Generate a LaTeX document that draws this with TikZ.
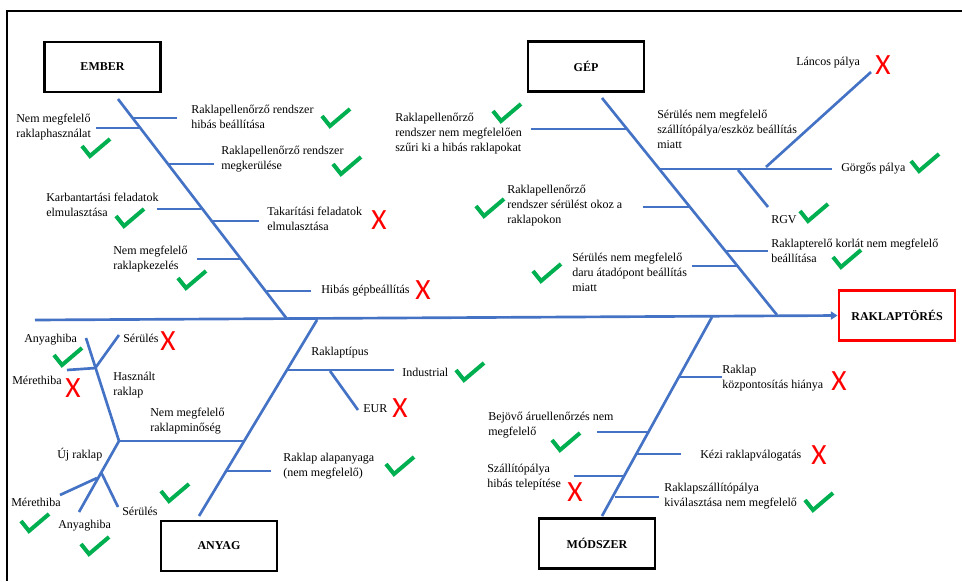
\documentclass[tikz,border=0pt]{standalone}
\usepackage{fontspec}
\setmainfont{Liberation Serif}
\newfontfamily\markfont{Carlito}
\usepackage{xcolor}
\usetikzlibrary{arrows.meta}
\definecolor{bonecol}{RGB}{68,114,196}
\definecolor{okgreen}{RGB}{0,176,80}
\tikzset{
  bone/.style={bonecol, line width=2pt},
  cause/.style={font=\fontsize{9}{11.2}\selectfont, align=left, anchor=west, inner sep=0pt},
  catbox/.style={draw=black, line width=2.2pt, minimum width=87pt, minimum height=37.5pt, font=\fontsize{9}{11}\selectfont\bfseries},
  nope/.style={red, font=\markfont\fontsize{22}{22}\selectfont, inner sep=0pt},
  okmark/.style={okgreen, line width=3pt}
}
\newcommand\okat[1]{\draw[okmark, shift={(#1)}] (-14,-2) -- (-6,8) -- (14,-9);}

\begin{document}
\begin{tikzpicture}[x=0.75pt, y=-0.75pt]
\useasboundingbox (0,0) rectangle (962,581);
\draw[line width=1.5pt] (7,581) -- (7,11) -- (962,11);

\node[catbox] (ember) at (102.5,67) {EMBER};
\node[catbox] (gep) at (586,66.5) {GÉP};
\node[catbox] (anyag) at (219,546) {ANYAG};
\node[catbox] (modszer) at (597,543.5) {MÓDSZER};
\node[catbox, draw=red, minimum width=87pt, minimum height=38pt] (effect) at (897,315.5) {RAKLAPTÖRÉS};

\coordinate (tail) at (35,320);
\draw[bone, -{Triangle[length=5pt,width=6pt]}] (tail) -- (effect.west);

% EMBER
\coordinate (ember-a) at (118,99); \coordinate (ember-b) at (287,319);
\draw[bone] (ember-a) -- (ember-b);
\draw[bone] (133,118) -- (177,118);
\draw[bone] (96,128) -- (139,128);
\draw[bone] (168,164) -- (214,164);
\draw[bone] (157,209) -- (201,209);
\draw[bone] (213,221) -- (259,221);
\draw[bone] (197,259) -- (242,259);
\draw[bone] (267,291) -- (311,291);
\node[cause] (e1) at (191,117) {Raklapellenőrző rendszer\\hibás beállítása};
\node[cause] (e2) at (16,127) {Nem megfelelő\\raklaphasználat};
\node[cause] (e3) at (221,159) {Raklapellenőrző rendszer\\megkerülése};
\node[cause] (e4) at (46,205) {Karbantartási feladatok\\elmulasztása};
\node[cause] (e5) at (267,219) {Takarítási feladatok\\elmulasztása};
\node[cause] (e6) at (113,259) {Nem megfelelő\\raklapkezelés};
\node[cause] (e7) at (321,291) {Hibás gépbeállítás};
\okat{336,118} \okat{96,148} \okat{347,166} \okat{130,218} \okat{192,280}
\node[nope] (x1) at (379,220) {X};
\node[nope] (x2) at (423,290) {X};

% GÉP
\coordinate (gep-a) at (602,98); \coordinate (gep-b) at (777,315);
\draw[bone] (gep-a) -- (gep-b);
\draw[bone] (531,129) -- (627,129);
\draw[bone] (660,169) -- (832,169);
\draw[bone] (766,167) -- (871,72);
\draw[bone] (738,170) -- (768,207);
\draw[bone] (643,207) -- (689,207);
\draw[bone] (725,251) -- (768,251);
\draw[bone] (692,266) -- (737,266);
\node[cause] (g1) at (395,134) {Raklapellenőrző\\rendszer nem megfelelően\\szűri ki a hibás raklapokat};
\node[cause] (g2) at (657,129) {Sérülés nem megfelelő\\szállítópálya/eszköz beállítás\\miatt};
\node[cause] (g3) at (796,63) {Láncos pálya};
\node[cause] (g4) at (841,169) {Görgős pálya};
\node[cause] (g5) at (771,220) {RGV};
\node[cause] (g6) at (507,206) {Raklapellenőrző\\rendszer sérülést okoz a\\raklapokon};
\node[cause] (g7) at (771,251) {Raklapterelő korlát nem megfelelő\\beállítása};
\node[cause] (g8) at (572,272) {Sérülés nem megfelelő\\daru átadópont beállítás\\miatt};
\okat{507,113} \okat{925,163} \okat{814,213} \okat{490,208} \okat{847,259} \okat{547,273}
\node[nope] (x3) at (883,65) {X};

% ANYAG
\coordinate (anyag-a) at (317,320); \coordinate (anyag-b) at (199,516);
\draw[bone] (anyag-a) -- (anyag-b);
\draw[bone] (287,370) -- (394,370);
\draw[bone] (330,371) -- (358,410);
\draw[bone] (227,471) -- (271,471);
\draw[bone] (119,441) -- (244,441);
\draw[bone] (119,441) -- (86,338);
\draw[bone] (96,367) -- (119,335);
\draw[bone] (67,370) -- (96,368);
\draw[bone] (119,441) -- (79,512);
\draw[bone] (101,472) -- (118,507);
\draw[bone] (97,478) -- (60,495);
\node[cause] (a1) at (311,353) {Raklaptípus};
\node[cause] (a2) at (402,372) {Industrial};
\node[cause] (a3) at (363,409) {EUR};
\node[cause] (a4) at (283,466) {Raklap alapanyaga\\(nem megfelelő)};
\node[cause] (a5) at (150,421) {Nem megfelelő\\raklapminőség};
\node[cause] (a6) at (113,385) {Használt\\raklap};
\node[cause] (a7) at (24,340) {Anyaghiba};
\node[cause] (a8) at (123,338) {Sérülés};
\node[cause] (a9) at (12,380) {Mérethiba};
\node[cause] (a10) at (57,455) {Új raklap};
\node[cause] (a11) at (122,511) {Sérülés};
\node[cause] (a12) at (11,502) {Mérethiba};
\node[cause] (a13) at (58,526) {Anyaghiba};
\okat{470,372} \okat{400,466} \okat{68,357} \okat{175,493} \okat{35,523} \okat{95,546}
\node[nope] (x4) at (400,408) {X};
\node[nope] (x5) at (168,341) {X};
\node[nope] (x6) at (73,388) {X};

% MÓDSZER
\coordinate (modszer-a) at (712,317); \coordinate (modszer-b) at (602,516);
\draw[bone] (modszer-a) -- (modszer-b);
\draw[bone] (678,377) -- (722,377);
\draw[bone] (597,432) -- (648,432);
\draw[bone] (637,454) -- (681,454);
\draw[bone] (574,476) -- (625,476);
\draw[bone] (615,497) -- (659,497);
\node[cause] (m1) at (722,378) {Raklap\\központosítás hiánya};
\node[cause] (m2) at (488,425) {Bejövő áruellenőrzés nem\\megfelelő};
\node[cause] (m3) at (700,456) {Kézi raklapválogatás};
\node[cause] (m4) at (487,477) {Szállítópálya\\hibás telepítése};
\node[cause] (m5) at (664,496) {Raklapszállítópálya\\kiválasztása nem megfelelő};
\okat{566,442} \okat{819,502}
\node[nope] (x7) at (839,381) {X};
\node[nope] (x8) at (819,455) {X};
\node[nope] (x9) at (575,492) {X};
\end{tikzpicture}
\end{document}
